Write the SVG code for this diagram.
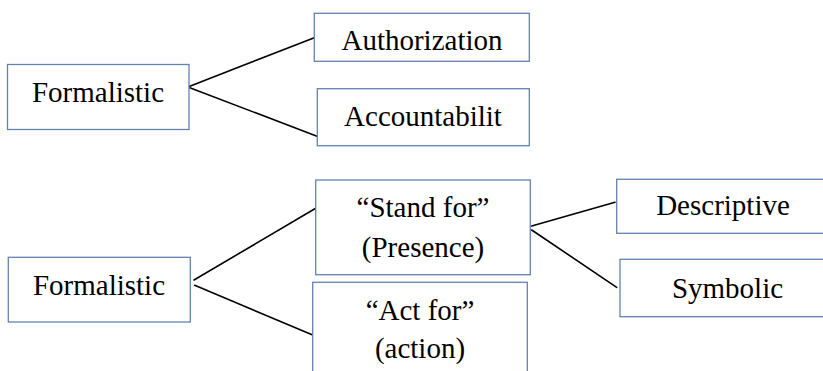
<svg xmlns="http://www.w3.org/2000/svg" width="823" height="371" viewBox="0 0 823 371">
<style>
.box{fill:#ffffff;stroke:#6482b0;stroke-width:1.3}
.lbl{font-family:"Liberation Serif","Times New Roman",Times,serif;font-size:29px;fill:#000000;text-anchor:middle}
.conn line{stroke:#000000;stroke-width:1.6;stroke-linecap:round}
</style>
<rect width="823" height="371" fill="#ffffff"/>
<g id="connectors" class="conn">
<line x1="188.5" y1="86.7" x2="314.3" y2="37.7"/>
<line x1="188.5" y1="87.3" x2="318.3" y2="136.7"/>
<line x1="194" y1="280" x2="315.7" y2="208.3"/>
<line x1="194.7" y1="285.3" x2="312.7" y2="335"/>
<line x1="531.7" y1="226" x2="615" y2="202.3"/>
<line x1="531.7" y1="230" x2="616.7" y2="287.3"/>
</g>
<g id="n-formalistic-1">
<rect class="box" x="7.5" y="64.5" width="181.5" height="65"/>
<text class="lbl" x="98" y="101.7">Formalistic</text>
</g>
<g id="n-authorization">
<rect class="box" x="314.3" y="13.3" width="215" height="48"/>
<text class="lbl" x="422" y="50">Authorization</text>
</g>
<g id="n-accountability">
<rect class="box" x="317.3" y="88.7" width="212" height="57"/>
<text class="lbl" x="423" y="126">Accountabilit</text>
</g>
<g id="n-formalistic-2">
<rect class="box" x="8.3" y="257.3" width="182" height="64.7"/>
<text class="lbl" x="99" y="295">Formalistic</text>
</g>
<g id="n-stand-for">
<rect class="box" x="315.7" y="180" width="214.6" height="94.7"/>
<text class="lbl" x="423" y="217.3">“Stand for”</text>
<text class="lbl" x="423" y="256.7">(Presence)</text>
</g>
<g id="n-act-for">
<rect class="box" x="312.7" y="282.3" width="214.6" height="100"/>
<text class="lbl" x="420" y="320">“Act for”</text>
<text class="lbl" x="420" y="358.3">(action)</text>
</g>
<g id="n-descriptive">
<rect class="box" x="616.7" y="179.3" width="212" height="54"/>
<text class="lbl" x="723" y="215">Descriptive</text>
</g>
<g id="n-symbolic">
<rect class="box" x="620" y="259.3" width="215" height="57.4"/>
<text class="lbl" x="727.5" y="298">Symbolic</text>
</g>
</svg>
